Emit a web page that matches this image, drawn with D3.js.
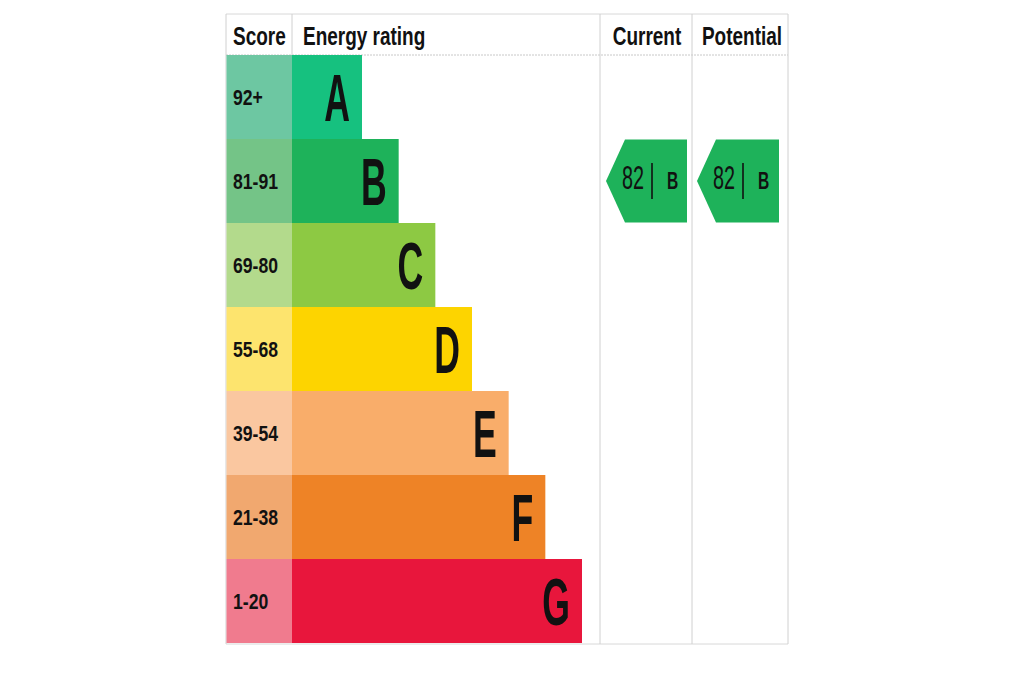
<!DOCTYPE html>
<html><head><meta charset="utf-8">
<script src="https://cdn.jsdelivr.net/npm/d3@7"></script>
<style>body{margin:0;background:#fff;} svg{display:block;}</style>
</head><body>
<svg id="c" width="1024" height="683"></svg>
<script>
const bands = ["A","B","C","D","E","F","G"];
const scoreLabels = ["92+","81-91","69-80","55-68","39-54","21-38","1-20"];
const barLengths = [1,2,3,4,5,6,7];
const bandColors = ["#16c17f","#1eb25a","#8dc943","#fdd400","#f9ad6a","#ee8326","#e8163c"];
const scoreColors = ["#6dc7a2","#74c487","#b3da8c","#fde46e","#fac7a0","#f1a86f","#f07b8e"];
const headers = ["Score","Energy rating","Current","Potential"];
const currentScore = 82, currentBand = "B";
const potentialScore = 82, potentialBand = "B";

(function(){
const svg = d3.select("#c");
const font = "'Liberation Sans',Arial,sans-serif";
const yTop = 14, headerBottom = 55, yBottom = 643;
const xLeft = 226, xScoreEnd = 292, xCurrent = 600, xPotential = 692, xRight = 788;

const y = d3.scaleBand().domain(bands).range([headerBottom, yBottom]).padding(0);
const x = d3.scaleLinear().domain([1, 7]).range([362, 582]);

function ctext(parent, tx, ty, sx, anchor, size, weight, str){
  const gg = parent.append("g").attr("transform",`translate(${tx},${ty}) scale(${sx},1)`);
  return gg.append("text").attr("x",0).attr("y",0).attr("text-anchor",anchor)
    .attr("font-family",font).attr("font-weight",weight).attr("font-size",size).attr("fill","#111").text(str);
}

const g = svg.append("g");
g.append("line").attr("x1",xLeft).attr("x2",xRight).attr("y1",yTop).attr("y2",yTop).attr("stroke","#d8d8d8");
g.append("line").attr("x1",xLeft).attr("x2",xRight).attr("y1",headerBottom).attr("y2",headerBottom).attr("stroke","#c8c8c8").attr("stroke-dasharray","2,1");
g.append("line").attr("x1",xLeft).attr("x2",xRight).attr("y1",yBottom+1).attr("y2",yBottom+1).attr("stroke","#d8d8d8");
[xLeft, xScoreEnd, xCurrent, xPotential, xRight].forEach((vx,i)=>{
  g.append("line").attr("x1",vx).attr("x2",vx).attr("y1",yTop).attr("y2", (i===1)?headerBottom:yBottom+1).attr("stroke","#d0d0d0");
});

const hx = [233, 303, 647, 742];
const ha = ["start","start","middle","middle"];
headers.forEach((h,i)=>{ ctext(svg, hx[i], 45, 0.73, ha[i], 26, "bold", h); });

svg.selectAll("rect.score").data(bands).join("rect").attr("class","score")
  .attr("x",xLeft+0.5).attr("y",d=>y(d)).attr("width",xScoreEnd-xLeft-0.5).attr("height",y.bandwidth())
  .attr("fill",(d,i)=>scoreColors[i]);
bands.forEach((b,i)=>{ ctext(svg, 233, y(b)+y.bandwidth()/2+8, 0.8, "start", 22, "bold", scoreLabels[i]); });

svg.selectAll("rect.bar").data(bands).join("rect").attr("class","bar")
  .attr("x",xScoreEnd).attr("y",d=>y(d)).attr("width",(d,i)=>x(barLengths[i])-xScoreEnd).attr("height",y.bandwidth())
  .attr("fill",(d,i)=>bandColors[i]);
bands.forEach((b,i)=>{ ctext(svg, x(barLengths[i])-12, y(b)+y.bandwidth()/2+24, 0.54, "end", 66, "bold", b); });

function arrow(x0, x1, score, band){
  const yc = y(band) + y.bandwidth()/2;
  const y0 = yc - 41.5, y1 = yc + 41.5;
  const tip = 19;
  const bi = bands.indexOf(band);
  svg.append("path").attr("d",`M${x0},${yc} L${x0+tip},${y0} L${x1},${y0} L${x1},${y1} L${x0+tip},${y1} Z`)
    .attr("fill",bandColors[bi]);
  ctext(svg, x0+16, yc+8, 0.6, "start", 33, "normal", String(score));
  svg.append("line").attr("x1",x0+46).attr("x2",x0+46).attr("y1",yc-18).attr("y2",yc+18).attr("stroke","#111").attr("stroke-width",1.6);
  ctext(svg, x0+61, yc+8, 0.65, "start", 24, "bold", band);
}
arrow(606, 687, currentScore, currentBand);
arrow(697, 779, potentialScore, potentialBand);
})();
</script>
</body></html>
